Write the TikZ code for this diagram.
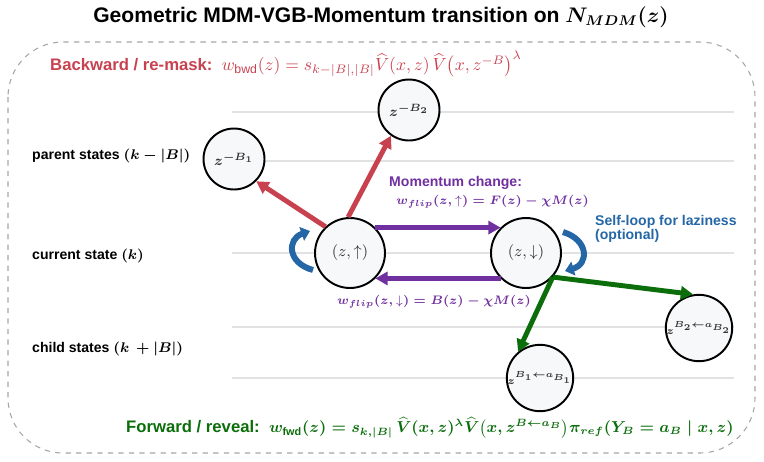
\documentclass[tikz,border=0pt]{standalone}
\usepackage{amsmath,amssymb}
\usepackage{fontspec}
\setmainfont{Liberation Sans}
\usepackage{tikz}
\usetikzlibrary{arrows.meta,calc}
\definecolor{remask}{HTML}{C8414F}
\definecolor{flip}{HTML}{7030A0}
\definecolor{lazy}{HTML}{2466A6}
\definecolor{reveal}{HTML}{0B6E0B}
\definecolor{rowgray}{HTML}{E2E2E2}
\definecolor{statefill}{HTML}{F7F8FA}
\newcommand{\rowline}[1]{\draw[rowgray,line width=0.8pt] (232,#1) -- (734,#1);}
\newcommand{\ptsize}[1]{\fontsize{#1}{#1}\selectfont}
\newcommand{\spin}[1]{\text{\unboldmath$#1$}}

\begin{document}
\begin{tikzpicture}[x=0.02cm,y=-0.02cm,
  statenode/.style={draw,circle,line width=1.1pt,fill=statefill,text=black!80,minimum size=1.4cm,inner sep=0pt,font=\ptsize{9}},
  substatenode/.style={statenode,minimum size=1.22cm,font=\ptsize{8}\boldmath},
  childnode/.style={substatenode,font=\ptsize{6.5}\boldmath},
  rowlabel/.style={anchor=west,font=\ptsize{8}\bfseries},
  move/.style={line width=2.8pt,-{Triangle[length=7pt,width=7.5pt]}},
  lazyloop/.style={lazy,line width=3.4pt,-{Triangle[length=5pt,width=8pt]}}]
  \useasboundingbox (0,0) rectangle (764,461);
  \node[font=\ptsize{12}\bfseries] (title) at (381,17) {Geometric MDM-VGB-Momentum transition on {\boldmath$N_{MDM}(z)$}};
  \draw[black!35,dashed,line width=0.6pt,rounded corners=1.1cm] (8,42) rectangle (755,453);
  % rows
  \rowline{112}\rowline{161}\rowline{253}\rowline{327}\rowline{378}
  \node[rowlabel] (parent) at (26,156) {parent states {\boldmath$(k-|B|)$}};
  \node[rowlabel] (current) at (26,256) {current state {\boldmath$(k)$}};
  \node[rowlabel] (child) at (26,349) {child states {\boldmath$(k\,+|B|)$}};
  % states
  \node[substatenode] (zb1) at (234,159) {$z^{-B_1}$};
  \node[substatenode] (zb2) at (409,110) {$z^{-B_2}$};
  \node[statenode] (zup) at (350,253) {$(z,\uparrow)$};
  \node[statenode] (zdn) at (526,253) {$(z,\downarrow)$};
  \node[childnode] (zc1) at (540,378) {$z^{B_1\leftarrow a_{B_1}}$};
  \node[childnode] (zc2) at (699,328) {$z^{B_2\leftarrow a_{B_2}}$};
  % backward
  \draw[move,remask] (zup.133) -- (zb1.-45);
  \draw[move,remask] (zup.93) -- (zb2.-125);
  \node[anchor=west,remask,font=\ptsize{9.5}\bfseries] (bwd) at (44,64)
    {Backward / re-mask:\ \ \mdseries\ptsize{10}$w_{\mathrm{bwd}}(z)=s_{k-|B|,|B|}\widehat{V}(x,z)\,\widehat{V}\bigl(x,z^{-B}\bigr)^{\lambda}$};
  % momentum flip
  \draw[move,flip] (zup.45) -- (zdn.135);
  \draw[move,flip] (zdn.-135) -- (zup.-45);
  \node[anchor=west,flip,font=\ptsize{8}\bfseries] (mlabel) at (383,183) {Momentum change:};
  \node[anchor=west,flip,font=\ptsize{7}\boldmath] (mup) at (390,202) {$w_{flip}(z,\spin{\uparrow})=F(z)-\chi M(z)$};
  \node[flip,font=\ptsize{7}\boldmath] (mdn) at (434,302) {$w_{flip}(z,\spin{\downarrow})=B(z)-\chi M(z)$};
  % laziness
  \coordinate (la) at ($(zup)+(-37,17)$);
  \coordinate (lb) at ($(zup)+(-40,-22)$);
  \draw[lazyloop] (la) .. controls ($(zup)+(-63,10)$) and ($(zup)+(-63,-14)$) .. (lb);
  \coordinate (ra) at ($(zdn)+(37,-21)$);
  \coordinate (rb) at ($(zdn)+(39,18)$);
  \draw[lazyloop] (ra) .. controls ($(zdn)+(63,-13)$) and ($(zdn)+(63,11)$) .. (rb);
  \node[anchor=west,lazy,align=left,font=\ptsize{8}\bfseries] (lazytext) at (589,229) {Self-loop for laziness\\(optional)};
  % forward
  \draw[move,reveal] (zdn.-42) -- (zc2.100);
  \draw[move,reveal] (zdn.-42) -- (zc1.130);
  \node[anchor=west,reveal,font=\ptsize{9.5}\bfseries] (fwd) at (120,428)
    {Forward / reveal:\ \ {\ptsize{8.8}\boldmath$w_{\mathrm{fwd}}(z)=s_{k,|B|}\,\widehat{V}(x,z)^{\lambda}\widehat{V}\bigl(x,z^{B\leftarrow a_B}\bigr)\pi_{ref}(Y_B=a_B\mid x,z)$}};
\end{tikzpicture}
\end{document}
